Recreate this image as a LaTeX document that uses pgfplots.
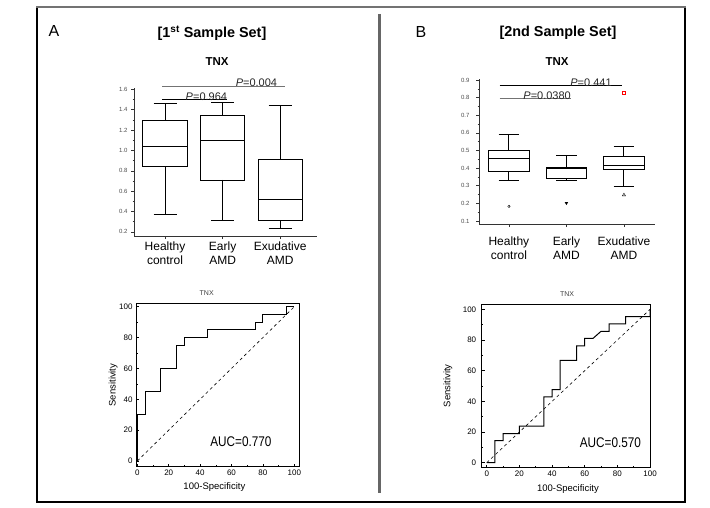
\documentclass[border=0pt]{standalone}
\usepackage{pgfplots}
\pgfplotsset{compat=1.18}
\usepgfplotslibrary{statistics}
\usepackage{fontspec}
\setmainfont{Liberation Sans}
\begin{document}
\begin{tikzpicture}[x=1pt,y=1pt]
\path[use as bounding box] (0,0) rectangle (710,507);
% outer frame
\draw[line width=2pt,black] (37,500) -- (37,5) -- (685,5) -- (685,500);
\draw[line width=2.5pt,black!55] (36,500) -- (686,500);
\draw[line width=3pt,black!60] (379,493) -- (379,14);
% headings
\node[font=\fontsize{16}{18}\selectfont] at (54,476) {A};
\node[font=\fontsize{16}{18}\selectfont] at (421,475) {B};
\node[font=\bfseries\fontsize{14.4}{16}\selectfont] at (212,474) {[1\textsuperscript{st} Sample Set]};
\node[font=\bfseries\fontsize{14.4}{16}\selectfont] at (558,474) {[2nd Sample Set]};
\node[font=\bfseries\fontsize{11.5}{13}\selectfont] at (217,445) {TNX};
\node[font=\bfseries\fontsize{11.5}{13}\selectfont] at (557,445) {TNX};
\node[font=\fontsize{7}{8}\selectfont,text=black!75] at (206.7,214.3) {TNX};
\node[font=\fontsize{7}{8}\selectfont,text=black!75] at (567,213) {TNX};

\pgfplotsset{
  boxstyle/.style={
    scale only axis, anchor=south west, clip=false,
    axis x line*=bottom, axis y line*=left, axis line style={-,black!80,line width=0.8pt},
    xtick={1,2,3},
    xticklabel style={align=center, font=\fontsize{12}{14}\selectfont},
    yticklabel style={font=\fontsize{6}{7}\selectfont, text=black!70,
      /pgf/number format/fixed, /pgf/number format/fixed zerofill,
      /pgf/number format/precision=1},
    /pgf/number format/assume math mode=true,
    tick align=outside, major tick length=3pt, minor tick length=1.5pt,
    minor y tick num=1, tick style={black!80, line width=0.6pt},
    boxplot/draw direction=y,
  },
  rocstyle/.style={
    scale only axis, anchor=south west,
    xtick={0,20,40,60,80,100}, ytick={0,20,40,60,80,100},
    minor tick num=1, tick align=inside, tick pos=left,
    major tick length=3pt, minor tick length=1.5pt,
    tick style={black, line width=0.6pt},
    axis line style={line width=0.8pt},
    ticklabel style={font=\fontsize{8}{9}\selectfont},
    /pgf/number format/assume math mode=true,
    label style={font=\fontsize{9.5}{11}\selectfont},
    xlabel={100-Specificity}, ylabel={Sensitivity},
  },
}

% ---------- Panel A box plot ----------
\begin{axis}[boxstyle, at={(134pt,271pt)}, width=183pt, height=148pt,
  xmin=0.46, xmax=3.64, ymin=0.16, ymax=1.613,
  xticklabels={{Healthy\\control},{Early\\AMD},{Exudative\\AMD}},
  xticklabel style={yshift=1pt},
  ytick={0.2,0.4,0.6,0.8,1.0,1.2,1.4,1.6}]
\addplot[black, line width=0.9pt, boxplot prepared={draw position=1,
  lower whisker=0.37, lower quartile=0.84, median=1.04, upper quartile=1.29,
  upper whisker=1.46, box extend=0.77, whisker extend=0.4}] coordinates {};
\addplot[black, line width=0.9pt, boxplot prepared={draw position=2,
  lower whisker=0.31, lower quartile=0.71, median=1.10, upper quartile=1.34,
  upper whisker=1.47, box extend=0.77, whisker extend=0.4}] coordinates {};
\addplot[black, line width=0.9pt, boxplot prepared={draw position=3,
  lower whisker=0.23, lower quartile=0.31, median=0.52, upper quartile=0.91,
  upper whisker=1.44, box extend=0.77, whisker extend=0.4}] coordinates {};
\addplot[black, line width=0.9pt] coordinates {(0.95,1.502) (2.08,1.502)};
\addplot[black!55, line width=0.9pt] coordinates {(0.95,1.633) (3.09,1.633)};
\node[anchor=base east, inner sep=0pt, yshift=-0.7pt, font=\fontsize{11}{12}\selectfont, text=black!85] at (axis cs:2.08,1.502) {\textit{P}=0.964};
\node[anchor=base east, inner sep=0pt, yshift=-0.7pt, font=\fontsize{11}{12}\selectfont, text=black!85] at (axis cs:2.95,1.633) {\textit{P}=0.004};
\end{axis}

% ---------- Panel B box plot ----------
\begin{axis}[boxstyle, at={(479pt,283pt)}, width=176pt, height=145pt,
  xmin=0.48, xmax=3.54, ymin=0.083, ymax=0.906,
  xticklabels={{Healthy\\control},{Early\\AMD},{Exudative\\AMD}},
  xticklabel style={yshift=-6pt},
  yticklabel style={xshift=-3pt},
  ytick={0.1,0.2,0.3,0.4,0.5,0.6,0.7,0.8,0.9}]
\addplot[black, line width=0.9pt, boxplot prepared={draw position=1,
  lower whisker=0.331, lower quartile=0.382, median=0.455, upper quartile=0.500,
  upper whisker=0.593, box extend=0.71, whisker extend=0.36}] coordinates {};
\addplot[black, line width=0.9pt, boxplot prepared={draw position=2,
  lower whisker=0.332, lower quartile=0.342, median=0.396, upper quartile=0.404,
  upper whisker=0.473, box extend=0.71, whisker extend=0.36}] coordinates {};
\addplot[black, line width=0.9pt, boxplot prepared={draw position=3,
  lower whisker=0.297, lower quartile=0.393, median=0.416, upper quartile=0.467,
  upper whisker=0.523, box extend=0.71, whisker extend=0.36}] coordinates {};
\addplot[only marks, black, mark=o, mark size=1.2pt] coordinates {(1,0.183)};
\addplot[only marks, black, mark=triangle*, mark size=1.6pt, mark options={rotate=180}] coordinates {(2,0.202)};
\addplot[only marks, black, mark=triangle, mark size=1.8pt] coordinates {(3,0.248)};
\addplot[only marks, red, mark=square, mark size=1.4pt] coordinates {(3,0.826)};
\addplot[black, line width=0.9pt] coordinates {(0.84,0.870) (2.97,0.870)};
\addplot[black!55, line width=0.9pt] coordinates {(0.84,0.794) (2.08,0.794)};
\node[anchor=base east, inner sep=0pt, yshift=-0.7pt, font=\fontsize{11}{12}\selectfont, text=black!85] at (axis cs:2.79,0.870) {\textit{P}=0.441};
\node[anchor=base east, inner sep=0pt, yshift=-0.7pt, font=\fontsize{11}{12}\selectfont, text=black!85] at (axis cs:2.08,0.794) {\textit{P}=0.0380};
\end{axis}

% ---------- Panel A ROC ----------
\begin{axis}[rocstyle, at={(136pt,40.3pt)}, width=163.3pt, height=163.4pt,
  xmin=-0.85, xmax=103.2, ymin=-3.7, ymax=102.2,
  xlabel style={at={(axis description cs:0.48,-0.122)}, anchor=center},
  ylabel style={at={(axis description cs:-0.14,0.5)}, anchor=center}]
\addplot[black, dashed, line width=0.6pt, dash pattern=on 3pt off 3pt] coordinates {(0,0) (100,100)};
\addplot[black, line width=1pt] coordinates {
  (0,0) (0,30) (5,30) (5,45) (15,45) (15,60) (25,60) (25,75) (30,75) (30,80)
  (45,80) (45,85) (75,85) (75,90) (80,90) (80,95) (95,95) (95,100) (100,100)};
\node[xscale=0.84, font=\fontsize{14}{16}\selectfont] at (axis cs:66,12.8) {AUC=0.770};
\end{axis}

% ---------- Panel B ROC ----------
\begin{axis}[rocstyle, at={(481.7pt,39.3pt)}, width=169pt, height=163.7pt,
  xmin=-3.1, xmax=100.4, ymin=-3.3, ymax=103.5,
  yticklabel style={xshift=-2pt},
  xlabel style={at={(axis description cs:0.51,-0.13)}, anchor=center},
  ylabel style={at={(axis description cs:-0.2,0.5)}, anchor=center}]
\addplot[black, dashed, line width=0.6pt, dash pattern=on 3pt off 3pt] coordinates {(0,0) (100,100)};
\addplot[black, line width=1pt] coordinates {
  (0,0) (5,0) (5,14.3) (10,14.3) (10,19) (20,19) (20,23.8) (35,23.8) (35,42.9)
  (40,42.9) (40,47.6) (45,47.6) (45,66.7) (55,66.7) (55,76.2) (60,76.2) (60,81)
  (65,81) (70,85.7) (75,85.7) (75,90.5) (85,90.5) (85,95.2) (100,95.2) (100,100)};
\node[xscale=0.84, font=\fontsize{14}{16}\selectfont] at (axis cs:75.7,13.2) {AUC=0.570};
\end{axis}
\end{tikzpicture}
\end{document}
